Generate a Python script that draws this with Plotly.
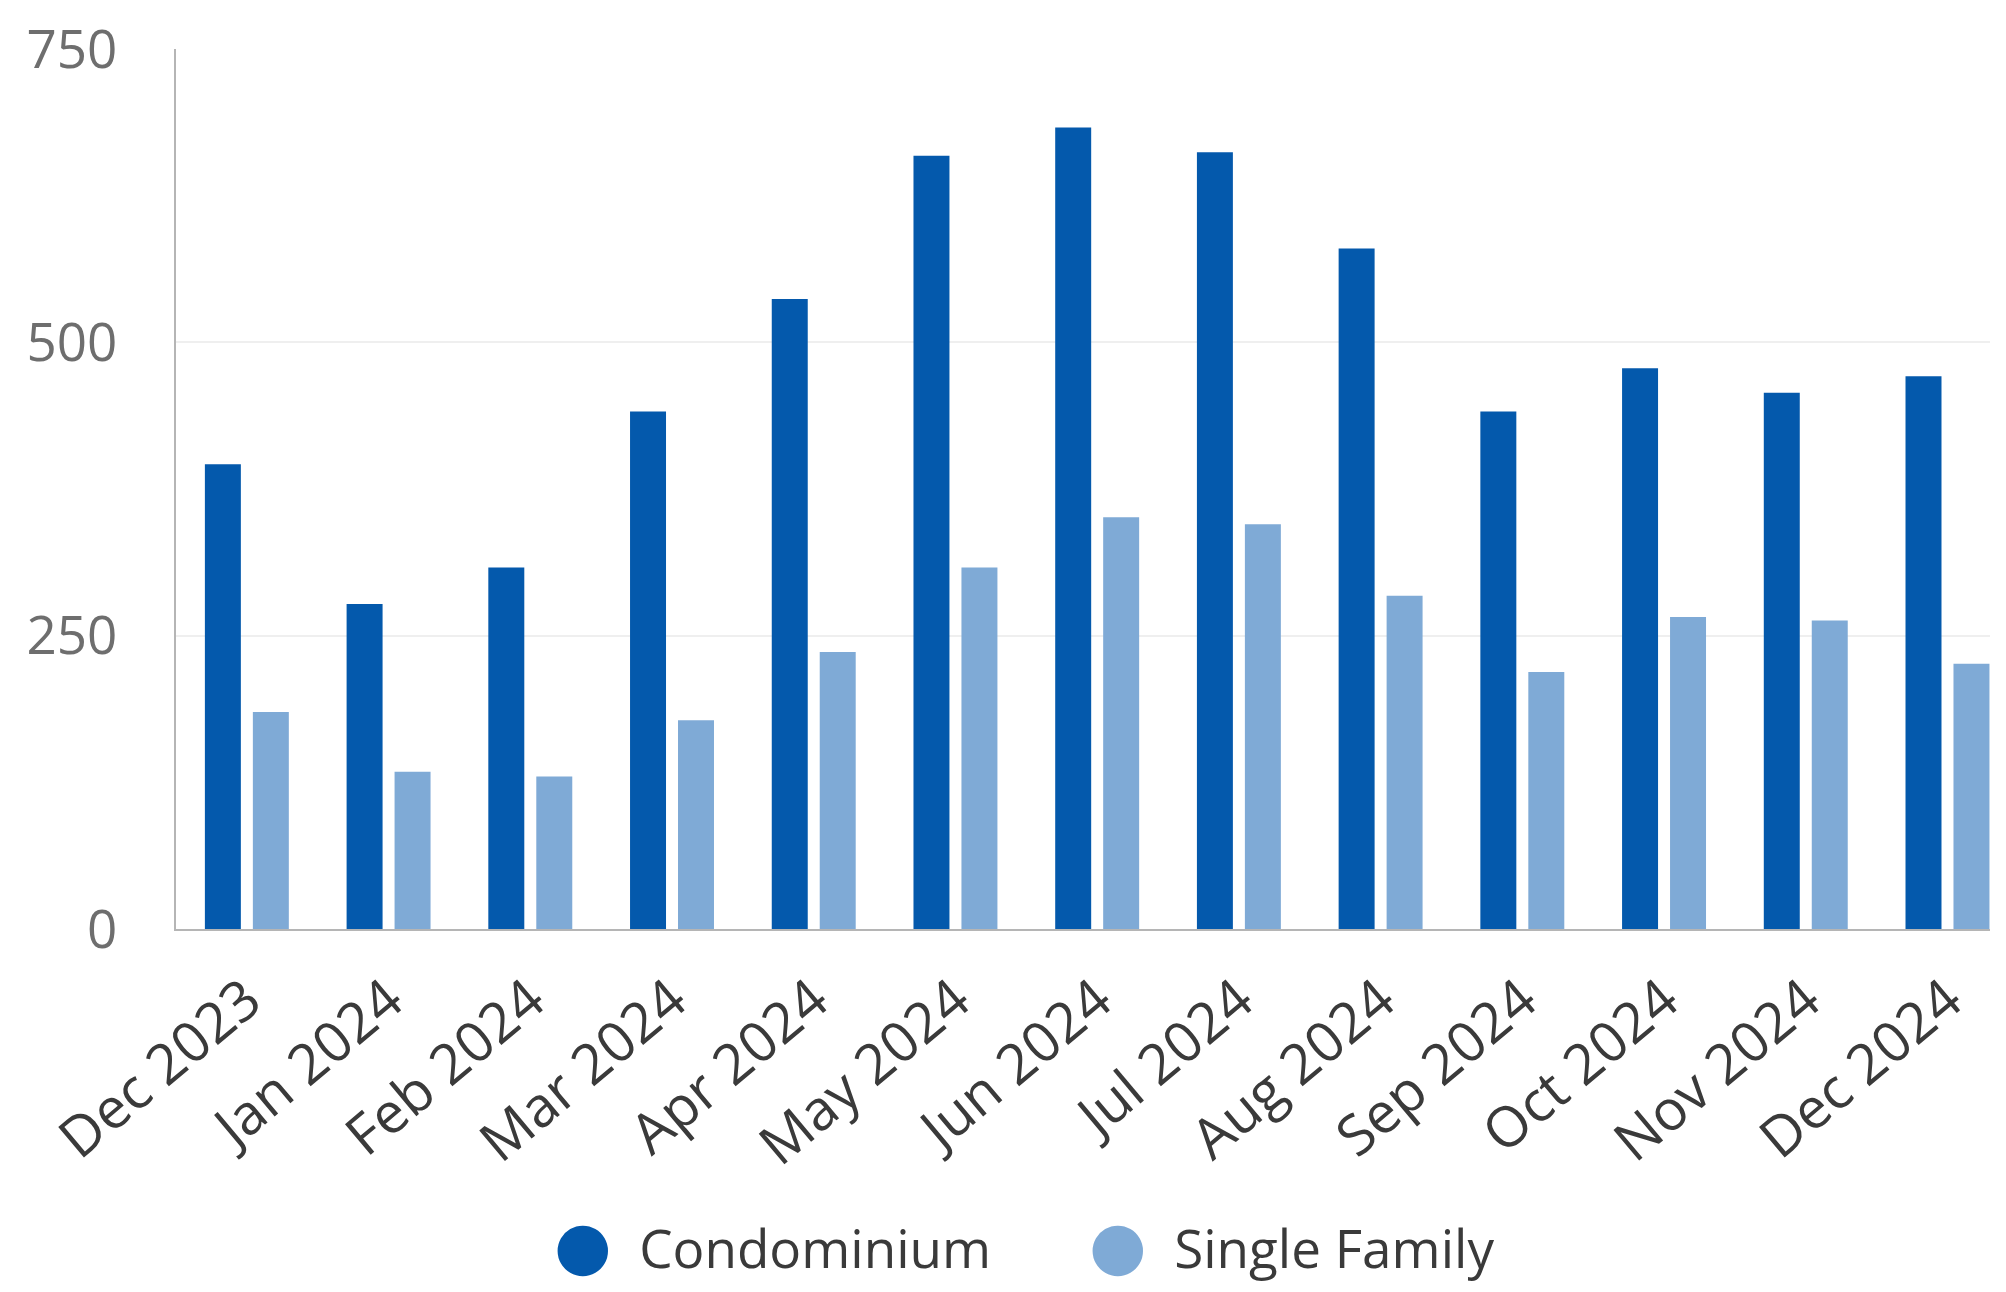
import plotly.graph_objects as go

months = ["Dec 2023", "Jan 2024", "Feb 2024", "Mar 2024", "Apr 2024", "May 2024",
          "Jun 2024", "Jul 2024", "Aug 2024", "Sep 2024", "Oct 2024", "Nov 2024", "Dec 2024"]
condominium = [396, 277, 308, 441, 537, 659, 683, 662, 580, 441, 478, 457, 471]
single_family = [185, 134, 130, 178, 236, 308, 351, 345, 284, 219, 266, 263, 226]
y_ticks = [0, 250, 500, 750]

dark = "#0459AC"
light = "#7FAAD6"
FONT = "Open Sans"

fig = go.Figure()
fig.add_trace(go.Bar(x=months, y=condominium, name="Condominium",
                     marker=dict(color=dark, line=dict(width=0)), showlegend=False))
fig.add_trace(go.Bar(x=months, y=single_family, name="Single Family",
                     marker=dict(color=light, line=dict(width=0)), showlegend=False))

fig.update_layout(
    width=2006, height=1292,
    margin=dict(l=176, r=16, t=49, b=363),
    paper_bgcolor="white", plot_bgcolor="white",
    barmode="group", bargap=0.323, bargroupgap=0.25,
    font=dict(family=FONT, size=52, color="#444"),
)
fig.update_xaxes(
    range=[-0.5, 12.3], tickangle=-40, showgrid=False,
    showline=True, linecolor="#b5b5b5", linewidth=2,
    ticks="", ticklabelstandoff=14,
    tickfont=dict(family=FONT, size=56, color="#3a3a3a"),
)
fig.update_yaxes(
    range=[0, 750], tickvals=y_ticks, showgrid=True, gridcolor="#efefef", gridwidth=2,
    showline=True, linecolor="#b5b5b5", linewidth=2, zeroline=False,
    ticks="", ticklabelstandoff=46,
    tickfont=dict(family=FONT, size=53, color="#6e6e6e"),
)

legend_items = [("Condominium", dark, 0.3286), ("Single Family", light, 0.6147)]
for name, col, xp in legend_items:
    fig.add_annotation(
        xref="paper", yref="paper", x=xp, y=-0.36, xanchor="center", yanchor="middle",
        showarrow=False,
        text=f'<span style="color:{col};font-size:66px;font-family:DejaVu Sans">●</span>  {name}',
        font=dict(family=FONT, size=53, color="#3a3a3a"),
    )

fig.write_html("out.html")
